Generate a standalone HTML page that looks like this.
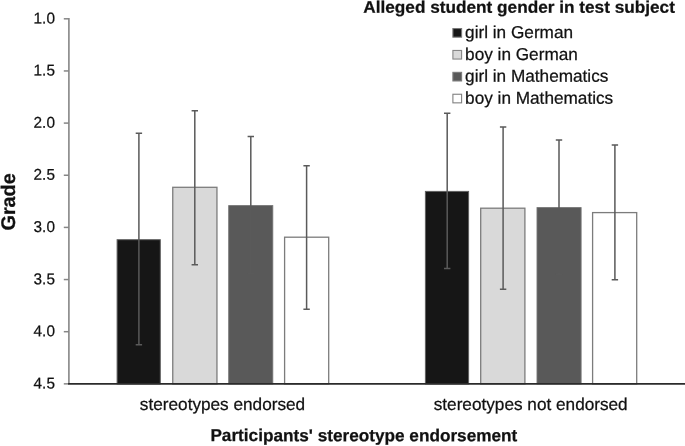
<!DOCTYPE html>
<html lang="en"><head><meta charset="utf-8"><title>Chart</title>
<style>html,body{margin:0;padding:0;background:#fff}svg{display:block}text{font-family:"Liberation Sans",sans-serif;fill:#111;stroke:#111;stroke-width:0.25px;text-rendering:geometricPrecision}</style></head><body>
<svg width="685" height="446" viewBox="0 0 685 446">
<rect width="685" height="446" fill="#fff"/>
<rect x="117.1" y="239.7" width="43.2" height="144.2" fill="#161616" stroke="#606060" stroke-width="1.0"/>
<rect x="172.75" y="187.3" width="44.2" height="196.6" fill="#d9d9d9" stroke="#7c7c7c" stroke-width="1.3"/>
<rect x="228.7" y="205.6" width="44.1" height="178.3" fill="#595959" stroke="#747474" stroke-width="0.9"/>
<rect x="284.6" y="237.2" width="44.1" height="146.7" fill="#ffffff" stroke="#7c7c7c" stroke-width="1.3"/>
<rect x="425.4" y="191.4" width="43.2" height="192.5" fill="#161616" stroke="#606060" stroke-width="1.0"/>
<rect x="480.7" y="208.2" width="44.2" height="175.7" fill="#d9d9d9" stroke="#7c7c7c" stroke-width="1.3"/>
<rect x="537.0" y="207.6" width="44.1" height="176.3" fill="#595959" stroke="#747474" stroke-width="0.9"/>
<rect x="592.6" y="212.6" width="44.1" height="171.3" fill="#ffffff" stroke="#7c7c7c" stroke-width="1.3"/>
<path d="M138.9 133.3V344.7M135.7 133.3H142.1M135.7 344.7H142.1" stroke="#5a5a5a" stroke-width="1.5" fill="none"/>
<path d="M194.8 110.8V264.7M191.6 110.8H198.0M191.6 264.7H198.0" stroke="#5a5a5a" stroke-width="1.5" fill="none"/>
<path d="M250.8 136.6V273.8M247.6 136.6H254.0M247.6 273.8H254.0" stroke="#5a5a5a" stroke-width="1.5" fill="none"/>
<path d="M306.6 165.7V309.2M303.4 165.7H309.8M303.4 309.2H309.8" stroke="#5a5a5a" stroke-width="1.5" fill="none"/>
<path d="M447.2 113.3V268.5M444.0 113.3H450.4M444.0 268.5H450.4" stroke="#5a5a5a" stroke-width="1.5" fill="none"/>
<path d="M503.1 126.9V289.3M499.9 126.9H506.3M499.9 289.3H506.3" stroke="#5a5a5a" stroke-width="1.5" fill="none"/>
<path d="M559.0 140.0V274.3M555.8 140.0H562.2M555.8 274.3H562.2" stroke="#5a5a5a" stroke-width="1.5" fill="none"/>
<path d="M614.9 145.1V279.7M611.7 145.1H618.1M611.7 279.7H618.1" stroke="#5a5a5a" stroke-width="1.5" fill="none"/>
<path d="M68.9 18.1V383.9" stroke="#868686" stroke-width="1.6" fill="none"/>
<path d="M63.8 18.80H68.9" stroke="#868686" stroke-width="1.5"/>
<text transform="translate(54.90 23.40) matrix(1 0.0005 0 1 0 0)" font-size="15.6" text-anchor="end" textLength="21.3" lengthAdjust="spacingAndGlyphs">1.0</text>
<path d="M63.8 70.95H68.9" stroke="#868686" stroke-width="1.5"/>
<text transform="translate(54.90 75.55) matrix(1 0.0005 0 1 0 0)" font-size="15.6" text-anchor="end" textLength="21.3" lengthAdjust="spacingAndGlyphs">1.5</text>
<path d="M63.8 123.10H68.9" stroke="#868686" stroke-width="1.5"/>
<text transform="translate(54.90 127.70) matrix(1 0.0005 0 1 0 0)" font-size="15.6" text-anchor="end" textLength="21.3" lengthAdjust="spacingAndGlyphs">2.0</text>
<path d="M63.8 175.25H68.9" stroke="#868686" stroke-width="1.5"/>
<text transform="translate(54.90 179.85) matrix(1 0.0005 0 1 0 0)" font-size="15.6" text-anchor="end" textLength="21.3" lengthAdjust="spacingAndGlyphs">2.5</text>
<path d="M63.8 227.40H68.9" stroke="#868686" stroke-width="1.5"/>
<text transform="translate(54.90 232.00) matrix(1 0.0005 0 1 0 0)" font-size="15.6" text-anchor="end" textLength="21.3" lengthAdjust="spacingAndGlyphs">3.0</text>
<path d="M63.8 279.55H68.9" stroke="#868686" stroke-width="1.5"/>
<text transform="translate(54.90 284.15) matrix(1 0.0005 0 1 0 0)" font-size="15.6" text-anchor="end" textLength="21.3" lengthAdjust="spacingAndGlyphs">3.5</text>
<path d="M63.8 331.70H68.9" stroke="#868686" stroke-width="1.5"/>
<text transform="translate(54.90 336.30) matrix(1 0.0005 0 1 0 0)" font-size="15.6" text-anchor="end" textLength="21.3" lengthAdjust="spacingAndGlyphs">4.0</text>
<path d="M63.8 383.85H68.9" stroke="#868686" stroke-width="1.5"/>
<text transform="translate(54.90 388.45) matrix(1 0.0005 0 1 0 0)" font-size="15.6" text-anchor="end" textLength="21.3" lengthAdjust="spacingAndGlyphs">4.5</text>
<path d="M68.1 383.9H685" stroke="#2b2b2b" stroke-width="1.7"/>
<text transform="translate(222.50 410.00) matrix(1 0.0005 0 1 0 0)" font-size="17.2" text-anchor="middle">stereotypes endorsed</text>
<text transform="translate(530.70 410.00) matrix(1 0.0005 0 1 0 0)" font-size="17.2" text-anchor="middle">stereotypes not endorsed</text>
<text transform="translate(210.40 441.10) matrix(1 0.0005 0 1 0 0)" font-size="17.2" font-weight="bold">Participants' stereotype endorsement</text>
<text transform="translate(363.30 12.70) matrix(1 0.0005 0 1 0 0)" font-size="16.8" font-weight="bold" textLength="311.6" lengthAdjust="spacingAndGlyphs">Alleged student gender in test subject</text>
<text transform="translate(15.4 230.5) rotate(-90)" font-size="19.8" font-weight="bold">Grade</text>
<rect x="452.9" y="28.55" width="8.7" height="8.6" fill="#161616" stroke="#777" stroke-width="1.1"/>
<text transform="translate(465.10 38.00) matrix(1 0.0005 0 1 0 0)" font-size="17.2">girl in German</text>
<rect x="452.9" y="50.45" width="8.7" height="8.6" fill="#d9d9d9" stroke="#868686" stroke-width="1.1"/>
<text transform="translate(465.10 59.90) matrix(1 0.0005 0 1 0 0)" font-size="17.2">boy in German</text>
<rect x="452.9" y="72.35" width="8.7" height="8.6" fill="#595959" stroke="#7c7c7c" stroke-width="1.1"/>
<text transform="translate(465.10 81.80) matrix(1 0.0005 0 1 0 0)" font-size="17.2">girl in Mathematics</text>
<rect x="452.9" y="94.25" width="8.7" height="8.6" fill="#ffffff" stroke="#808080" stroke-width="1.1"/>
<text transform="translate(465.10 103.70) matrix(1 0.0005 0 1 0 0)" font-size="17.2">boy in Mathematics</text>
</svg></body></html>
